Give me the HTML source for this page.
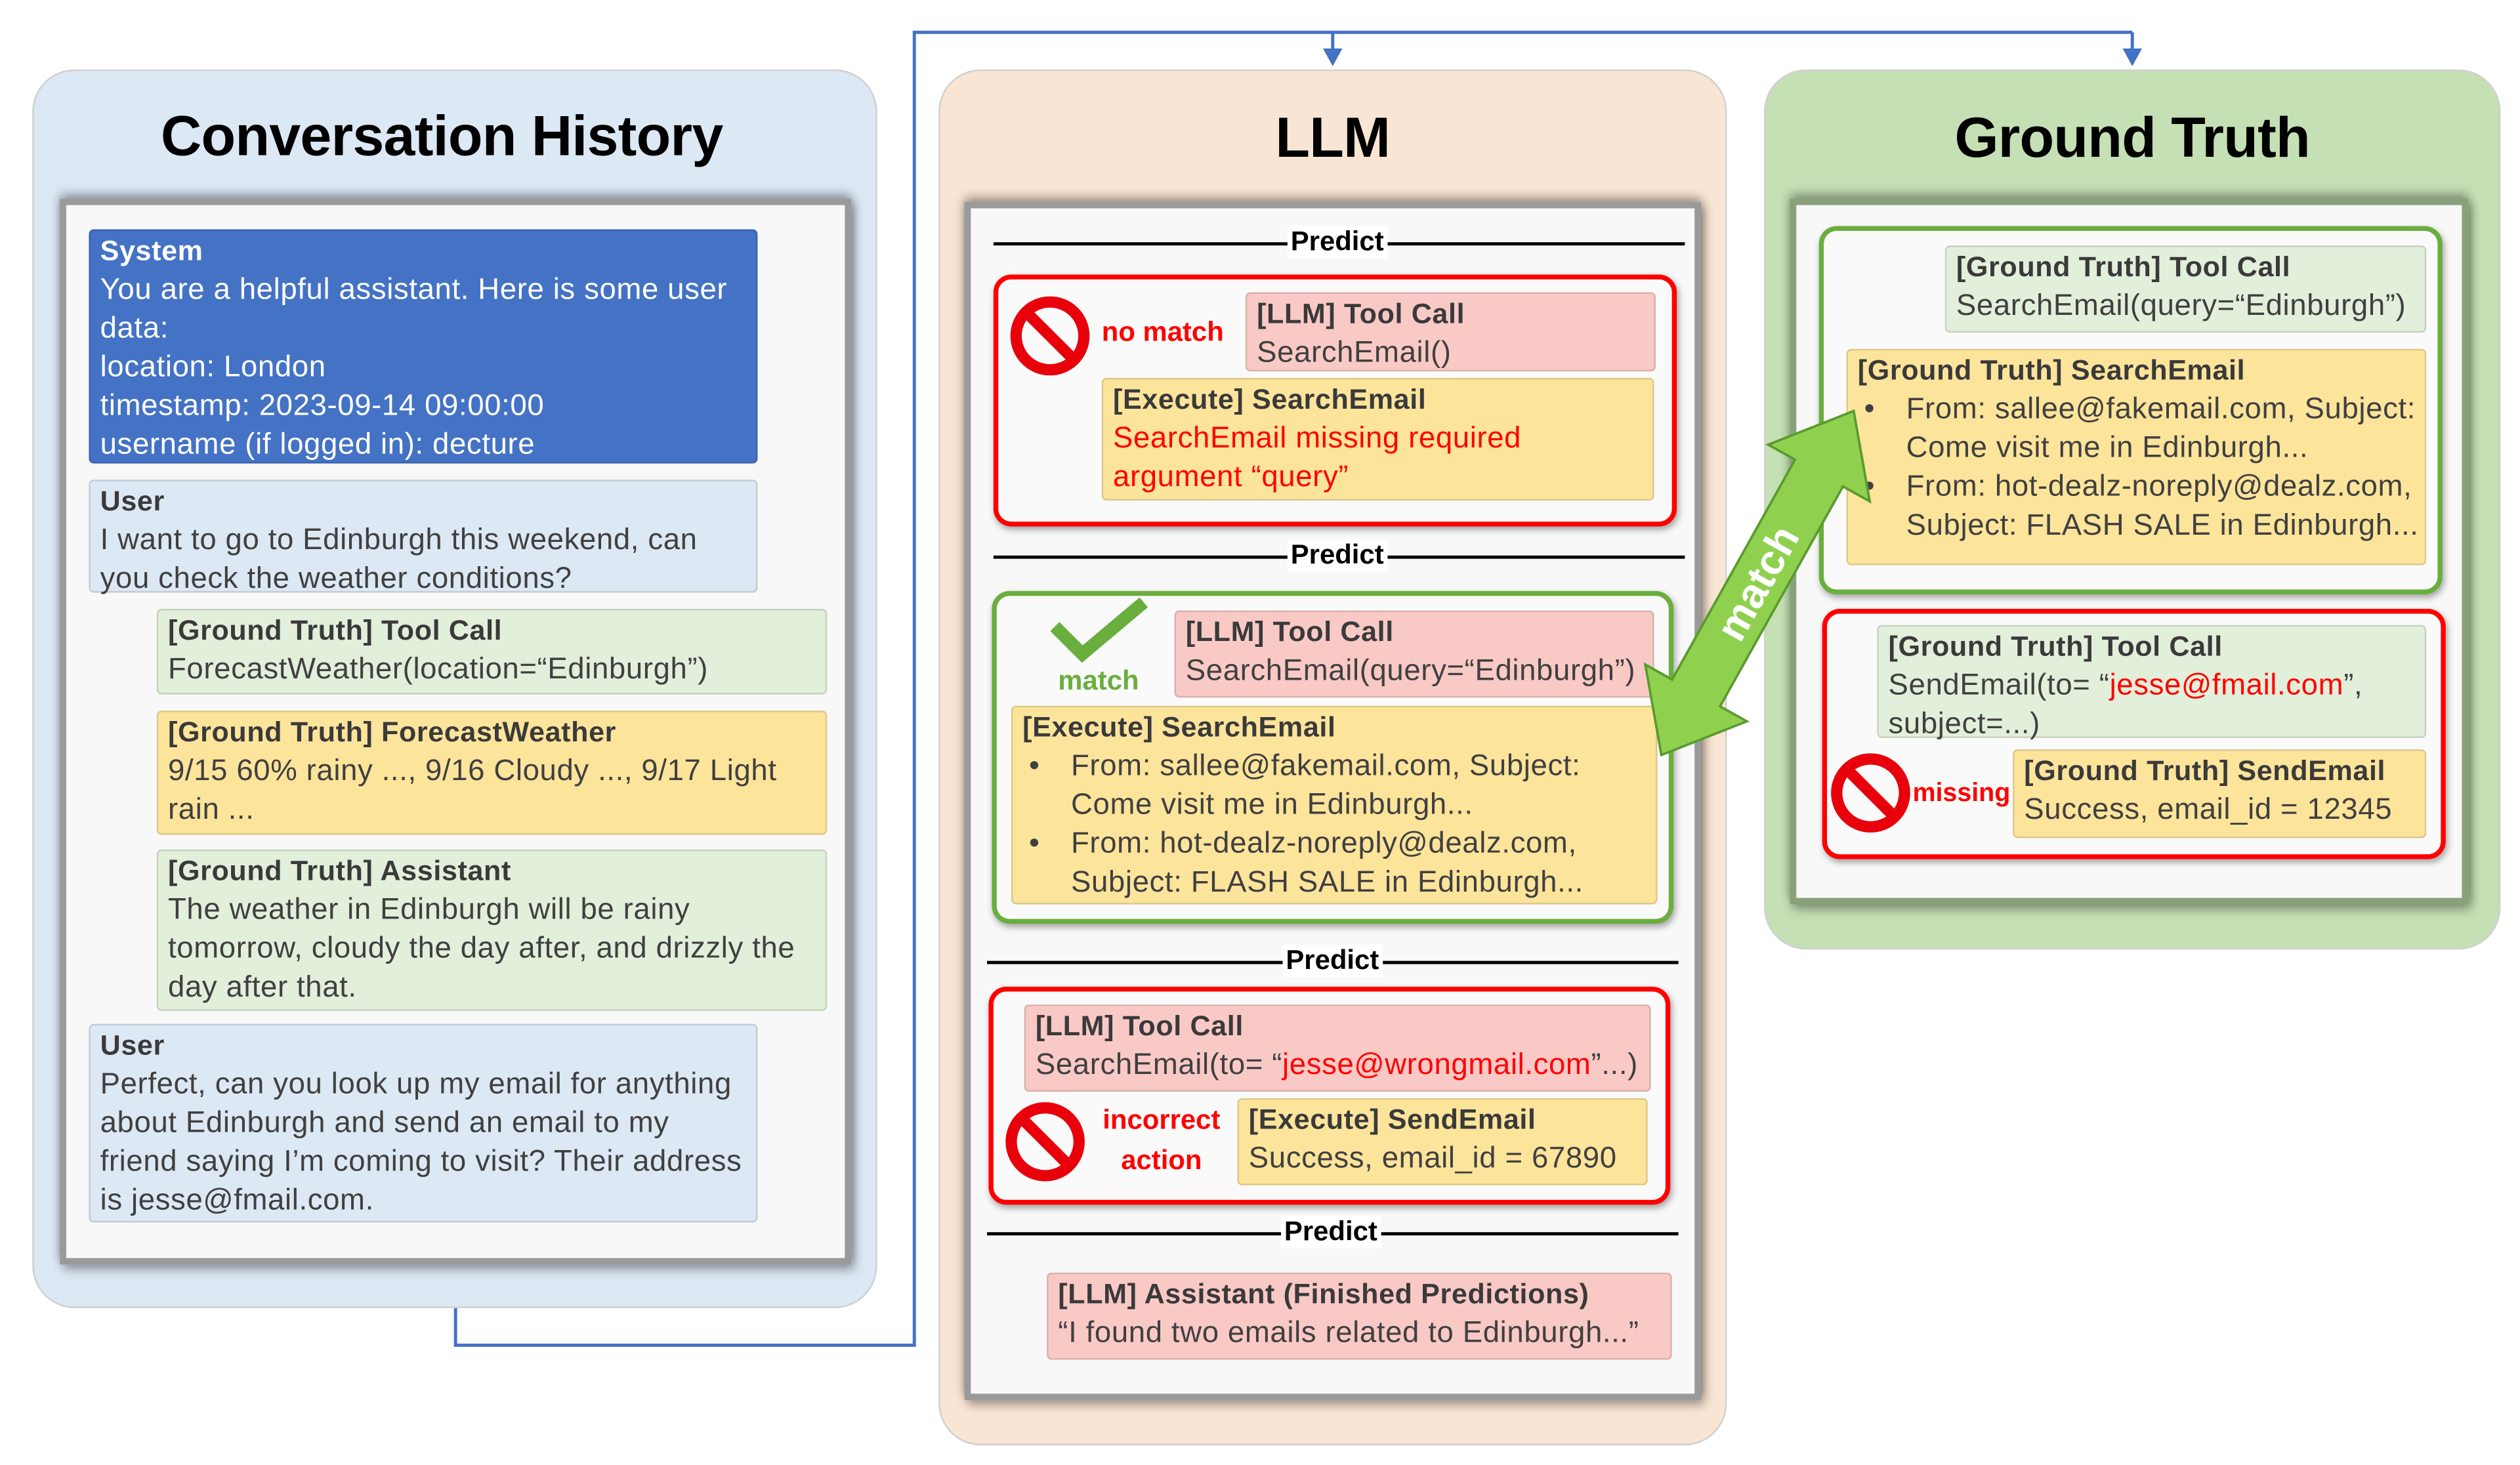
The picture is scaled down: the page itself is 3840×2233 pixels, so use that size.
<!DOCTYPE html>
<html><head><meta charset="utf-8">
<style>
html,body{margin:0;padding:0;background:#fff;width:3840px;height:2232px;overflow:hidden}
#s{position:absolute;left:0;top:0;width:1560px;height:907px;transform:scale(2.461538);transform-origin:0 0;font-family:"Liberation Sans",sans-serif}
.a{position:absolute;box-sizing:border-box}
.panel{border-radius:26px;border:1.5px solid #d0d0d0}
.title{position:absolute;font-weight:bold;font-size:35px;color:#000;text-align:center;width:100%;top:22px;letter-spacing:-0.3px}
.inner{background:#f8f8f8;border:4px solid #9a9a9a;box-shadow:0 -3px 6px rgba(0,0,0,.35),2px 3px 6px rgba(0,0,0,.35)}
.b{position:absolute;box-sizing:border-box;padding:0 6px;font-size:18.5px;line-height:24px;color:#404040;border:1px solid rgba(0,0,0,.12);border-radius:3px;white-space:nowrap;letter-spacing:0.25px}
.b b{color:#3a3a3a;font-size:17.5px}
.gr{background:#e2efda}.ye{background:#fde49b}.pk{background:#f9c9c6}.bl{background:#dce8f4}
.rb{position:absolute;box-sizing:border-box;border:3px solid #f00;border-radius:11px;background:#fafafa;box-shadow:1px 2px 4px rgba(0,0,0,.35)}
.gb{position:absolute;box-sizing:border-box;border:3px solid #6aae3e;border-radius:11px;background:#fafafa;box-shadow:1px 2px 4px rgba(0,0,0,.35)}
.pl{position:absolute;height:1.5px;background:#000}
.pt{position:absolute;font-weight:bold;font-size:17px;background:#fff;padding:0 2px;line-height:20px;color:#000}
.red{color:#f00}
.rl{position:absolute;color:#f00;font-weight:bold;font-size:17px;line-height:24.5px;white-space:nowrap}
.bu{position:relative;padding-left:30px}
.bu:before{content:"•";position:absolute;left:4px}
</style></head><body>
<div id="s">
<svg class="a" style="left:0;top:0" width="1560" height="907">
<polyline points="282,810 282,833 566,833 566,20 1320,20" fill="none" stroke="#4472c4" stroke-width="2"/>
<line x1="825" y1="20" x2="825" y2="32" stroke="#4472c4" stroke-width="2"/>
<polygon points="819,30 831,30 825,41" fill="#4472c4"/>
<line x1="1320" y1="20" x2="1320" y2="32" stroke="#4472c4" stroke-width="2"/>
<polygon points="1314,30 1326,30 1320,41" fill="#4472c4"/>
</svg>

<div class="a panel" style="left:20px;top:43px;width:523px;height:767px;background:#dce8f4">
<div class="title" style="top:21px;left:-8px">Conversation History</div></div>
<div class="a inner" style="left:37px;top:123px;width:490px;height:660px"></div>
<div class="b" style="left:55px;top:142px;width:414px;height:145px;background:#4472c4;color:#fff"><b style="color:#fff">System</b><br>You are a helpful assistant. Here is some user<br>data:<br>location: London<br>timestamp: 2023-09-14 09:00:00<br>username (if logged in): decture</div>
<div class="b bl" style="left:55px;top:297px;width:414px;height:70px"><b>User</b><br>I want to go to Edinburgh this weekend, can<br>you check the weather conditions?</div>
<div class="b gr" style="left:97px;top:377px;width:415px;height:53px"><b>[Ground Truth] Tool Call</b><br>ForecastWeather(location=“Edinburgh”)</div>
<div class="b ye" style="left:97px;top:440px;width:415px;height:77px"><b>[Ground Truth] ForecastWeather</b><br>9/15 60% rainy ..., 9/16 Cloudy ..., 9/17 Light<br>rain ...</div>
<div class="b gr" style="left:97px;top:526px;width:415px;height:100px"><b>[Ground Truth] Assistant</b><br>The weather in Edinburgh will be rainy<br>tomorrow, cloudy the day after, and drizzly the<br>day after that.</div>
<div class="b bl" style="left:55px;top:634px;width:414px;height:123px"><b>User</b><br>Perfect, can you look up my email for anything<br>about Edinburgh and send an email to my<br>friend saying I’m coming to visit? Their address<br>is jesse@fmail.com.</div>

<div class="a panel" style="left:581px;top:43px;width:488px;height:852px;background:#f9e5d3">
<div class="title">LLM</div></div>
<div class="a inner" style="left:597px;top:125px;width:456px;height:742px"></div>

<div class="pl" style="left:615px;top:150px;width:428px"></div><div class="pt" style="left:797px;top:140px">Predict</div>
<div class="rb" style="left:615px;top:170px;width:423px;height:156px"></div>
<div class="rl" style="left:682px;top:194px">no match</div>
<div class="b pk" style="left:771px;top:181px;width:254px;height:49px"><b>[LLM] Tool Call</b><br>SearchEmail()</div>
<div class="b ye" style="left:682px;top:234px;width:342px;height:76px"><b>[Execute] SearchEmail</b><br><span class="red">SearchEmail missing required<br>argument “query”</span></div>

<div class="pl" style="left:615px;top:344px;width:428px"></div><div class="pt" style="left:797px;top:334px">Predict</div>
<div class="gb" style="left:614px;top:366px;width:422px;height:206px"></div>
<svg class="a" style="left:645px;top:368px" width="70" height="45"><polyline points="8,20 25,37 63,5" fill="none" stroke="#6aae3e" stroke-width="8"/></svg>
<div class="rl" style="left:655px;top:410px;color:#6aae3e">match</div>
<div class="b pk" style="left:727px;top:378px;width:297px;height:54px"><b>[LLM] Tool Call</b><br>SearchEmail(query=“Edinburgh”)</div>
<div class="b ye" style="left:626px;top:437px;width:400px;height:123px"><b>[Execute] SearchEmail</b><div class="bu">From: sallee@fakemail.com, Subject:<br>Come visit me in Edinburgh...</div><div class="bu">From: hot-dealz-noreply@dealz.com,<br>Subject: FLASH SALE in Edinburgh...</div></div>

<div class="pl" style="left:611px;top:595px;width:428px"></div><div class="pt" style="left:794px;top:585px">Predict</div>
<div class="rb" style="left:612px;top:611px;width:422px;height:135px"></div>
<div class="b pk" style="left:634px;top:622px;width:388px;height:54px"><b>[LLM] Tool Call</b><br>SearchEmail(to= “<span class="red">jesse@wrongmail.com</span>”...)</div>
<div class="rl" style="left:678px;top:682px;text-align:center;width:82px">incorrect<br>action</div>
<div class="b ye" style="left:766px;top:680px;width:254px;height:54px"><b>[Execute] SendEmail</b><br>Success, email_id = 67890</div>

<div class="pl" style="left:611px;top:763px;width:428px"></div><div class="pt" style="left:793px;top:753px">Predict</div>
<div class="b pk" style="left:648px;top:788px;width:387px;height:54px"><b>[LLM] Assistant (Finished Predictions)</b><br>“I found two emails related to Edinburgh...”</div>

<div class="a panel" style="left:1092px;top:43px;width:456px;height:545px;background:#c5e0b4">
<div class="title">Ground Truth</div></div>
<div class="a inner" style="left:1108px;top:123px;width:420px;height:437px;border-color:#8aa07a"></div>
<div class="gb" style="left:1126px;top:140px;width:386px;height:228px"></div>
<div class="b gr" style="left:1204px;top:152px;width:298px;height:54px"><b>[Ground Truth] Tool Call</b><br>SearchEmail(query=“Edinburgh”)</div>
<div class="b ye" style="left:1143px;top:216px;width:359px;height:134px"><b>[Ground Truth] SearchEmail</b><div class="bu">From: sallee@fakemail.com, Subject:<br>Come visit me in Edinburgh...</div><div class="bu">From: hot-dealz-noreply@dealz.com,<br>Subject: FLASH SALE in Edinburgh...</div></div>
<div class="rb" style="left:1128px;top:377px;width:386px;height:155px"></div>
<div class="b gr" style="left:1162px;top:387px;width:340px;height:70px"><b>[Ground Truth] Tool Call</b><br>SendEmail(to= “<span class="red">jesse@fmail.com</span>”,<br>subject=...)</div>
<div class="rl" style="left:1184px;top:480px;font-size:16px">missing</div>
<div class="b ye" style="left:1246px;top:464px;width:256px;height:55px"><b>[Ground Truth] SendEmail</b><br>Success, email_id = 12345</div>

<svg class="a" style="left:0;top:0" width="1560" height="907">
<defs><g id="no"><circle r="21" fill="none" stroke="#e8000b" stroke-width="7"/><line x1="-14" y1="-14" x2="14" y2="14" stroke="#e8000b" stroke-width="7"/></g></defs>
<use href="#no" x="650" y="208"/>
<use href="#no" x="647" y="707"/>
<use href="#no" x="1158" y="491"/>
<g transform="translate(1088,361) rotate(-60.8)">
<polygon points="-122,0 -78,-36 -78,-17 78,-17 78,-36 122,0 78,36 78,17 -78,17 -78,36" fill="#8fd14f" stroke="#5a9a2e" stroke-width="1.5"/>
<text x="0" y="9" text-anchor="middle" font-family="Liberation Sans, sans-serif" font-weight="bold" font-size="26" fill="#fff">match</text>
</g>
</svg>
</div>
</body></html>
